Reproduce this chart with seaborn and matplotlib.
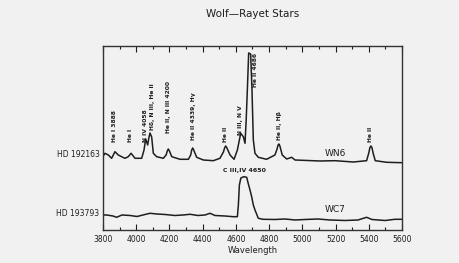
import matplotlib
matplotlib.use("Agg")
import matplotlib.pyplot as plt
import seaborn as sns
import pandas as pd

# ---- data (flux in arbitrary units) ----
wn6_wave = [3806, 3812, 3832, 3852, 3872, 3892, 3912, 3932, 3952, 3969, 3993,
            4033, 4047, 4057, 4069, 4076, 4083, 4093, 4103, 4123, 4163, 4180,
            4187, 4193, 4200, 4214, 4264, 4314, 4328, 4334, 4340, 4346, 4364,
            4404, 4464, 4504, 4525, 4533, 4539, 4546, 4565, 4589, 4609, 4629,
            4645, 4655, 4662, 4669, 4677, 4689, 4697, 4705, 4715, 4735, 4785,
            4835, 4848, 4854, 4859, 4865, 4879, 4906, 4936, 4956, 5106, 5197,
            5307, 5387, 5400, 5407, 5413, 5419, 5426, 5439, 5508, 5598]
wn6_flux = [75, 76.7, 75, 71.7, 78.3, 75, 73.3, 71.7, 73.3, 76.7, 71.7,
            71.7, 80, 91, 85, 92, 97, 93, 76.7, 73.3, 71.7, 75,
            79, 81, 79, 73.3, 70.7, 70.7, 75, 80, 82, 80, 72.7,
            70, 69.3, 71.7, 78, 82.5, 84, 82, 75, 70.7, 80, 96.7,
            93.3, 86.7, 110, 140, 177, 176, 140, 90, 76.7, 72.7, 70.7,
            75, 81, 85, 86, 84, 75, 71, 72.7, 70, 69, 69.3,
            68, 69.3, 77, 82.5, 84, 82.5, 77, 69.3, 67.7, 67.3]

wc7_wave = [3806, 3822, 3860, 3882, 3914, 3963, 4005, 4053, 4083, 4125, 4173,
            4233, 4282, 4324, 4372, 4414, 4444, 4474, 4534, 4584, 4609, 4615,
            4621, 4630, 4648, 4665, 4674, 4685, 4695, 4705, 4715, 4735, 4763,
            4835, 4896, 4956, 5016, 5094, 5166, 5257, 5335, 5387, 5419, 5498,
            5558, 5598]
wc7_flux = [15, 15, 14, 12.7, 15, 14.5, 13.5, 15.5, 16.7, 16, 15.5,
            14.5, 15, 15.7, 14.5, 15, 16.7, 14.5, 14, 13.3, 13.3, 25,
            45, 52, 53.3, 52.7, 46.7, 40, 33.3, 25, 20, 11.7, 10.7,
            10.5, 11, 10, 10.5, 11, 10, 9.5, 10, 12.7, 10.5, 9.5,
            10.7, 10.7]

line_labels = ["He I 3888", "He I", "N IV 4058", "H\u03b4, N III, He II",
               "He II, N III 4200", "He II 4339, H\u03b3", "He II",
               "N III, N V", "He II 4686", "He II, H\u03b2", "He II"]
line_wave = [3872, 3967, 4055, 4101, 4195, 4347, 4535, 4627, 4716, 4862, 5413]
line_base = [88, 88, 88, 100, 97, 90, 88, 95, 143, 90, 88]

star_names = ["HD 192163", "HD 193793"]
star_level = [75, 16]
star_types = ["WN6", "WC7"]
type_pos = [(5197, 76), (5197, 20)]
xticks = [3800, 4000, 4200, 4400, 4600, 4800, 5000, 5200, 5400, 5600]

# ---- plotting ----
sns.set_theme(style="ticks")
plt.rcParams["font.family"] = ["DejaVu Sans"]
bg = "#f1f1f1"
ink = "#1e1e1e"

fig = plt.figure(figsize=(4.6, 2.63), dpi=100, facecolor=bg)
ax = fig.add_axes([0.2239, 0.1236, 0.650, 0.7015])
ax.set_facecolor(bg)

df1 = pd.DataFrame({"wave": wn6_wave, "flux": wn6_flux})
df2 = pd.DataFrame({"wave": wc7_wave, "flux": wc7_flux})
sns.lineplot(data=df1, x="wave", y="flux", ax=ax, color=ink, lw=1.1,
             estimator=None, sort=False)
sns.lineplot(data=df2, x="wave", y="flux", ax=ax, color=ink, lw=1.1,
             estimator=None, sort=False)

ax.set_xlim(3800, 5600)
ax.set_ylim(-0.5, 184)
ax.set_xticks(xticks)
ax.set_xticks(range(3900, 5600, 200), minor=True)
ax.set_yticks([])
ax.tick_params(axis="x", which="both", direction="in", top=True, bottom=True,
               colors=ink, labelsize=5.5, pad=3)
ax.tick_params(axis="x", which="major", length=4, width=0.8)
ax.tick_params(axis="x", which="minor", length=2.5, width=0.8)
for s in ax.spines.values():
    s.set_color("#333333")
    s.set_linewidth(1.0)
ax.set_xlabel("Wavelength", fontsize=6, color=ink, labelpad=2)
ax.set_ylabel("")

for lab, w, b in zip(line_labels, line_wave, line_base):
    ax.text(w, b, lab, rotation=90, ha="center", va="bottom",
            fontsize=4.3, color=ink, fontweight="bold")

ax.text(4650, 59, "C III,IV 4650", ha="center", va="center", fontsize=4.5,
        color=ink, fontweight="bold")

for name, lvl in zip(star_names, star_level):
    ax.text(-0.012, lvl, name, transform=ax.get_yaxis_transform(),
            ha="right", va="center", fontsize=5.5, color=ink)

for t, (tx, ty) in zip(star_types, type_pos):
    ax.text(tx, ty, t, ha="center", va="center", fontsize=6.5, color=ink)

fig.text(0.549, 0.947, "Wolf\u2014Rayet Stars", ha="center", va="center",
         fontsize=7.5, color=ink)

fig.savefig("out.png", dpi=100, facecolor=bg)
